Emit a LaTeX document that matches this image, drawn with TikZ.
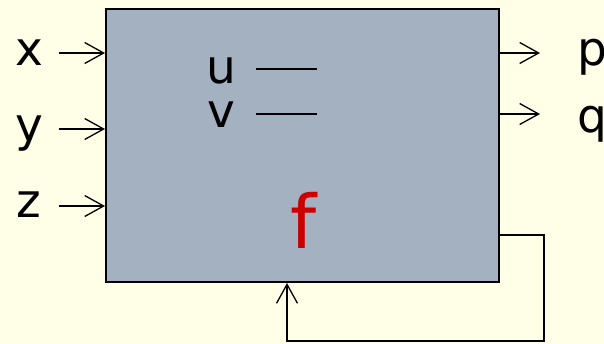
\documentclass[tikz,border=0pt]{standalone}
\usepackage{fontspec}
\setmainfont{DejaVu Sans}
\usetikzlibrary{arrows.meta}
\definecolor{fond}{HTML}{FFFFE8}
\definecolor{bloc}{HTML}{A3B1C0}
\definecolor{rouge}{HTML}{CC0000}
\newcommand{\grand}[0]{\fontsize{47}{47}\selectfont}
\newcommand{\entree}[2]{\coordinate (#1) at (59,#2);
	\draw[fl] (#1) -- (#1 -| bloc.west)}
\newcommand{\sortie}[2]{\coordinate (#1) at (540,#2);
	\draw[fl] (#1 -| bloc.east) -- (#1)}
\tikzset{fl/.style={line width=1.3pt,-{Straight Barb[length=19pt,width=21pt,line width=1.3pt]}},
	lettre/.style={inner sep=0pt,font=\grand}}

\begin{document}
\begin{tikzpicture}[x=1pt,y=-1pt]
	\fill[fond] (0,0) rectangle (604,343);
	\useasboundingbox (0,0) rectangle (604,343);
	\node[draw,line width=2pt,fill=bloc,anchor=north west,
		minimum width=393pt,minimum height=273pt,inner sep=0pt] (bloc) at (105,8) {};
	% entrees
	\node[lettre,anchor=base] (x) at (29,65) {x};
	\node[lettre,anchor=base] (y) at (29,141) {y};
	\node[lettre,anchor=base] (z) at (29,217) {z};
	\entree{xe}{53};
	\entree{ye}{129};
	\entree{ze}{206};
	% sorties
	\node[lettre,anchor=base west] (p) at (577,65) {p};
	\node[lettre,anchor=base west] (q) at (577,132) {q};
	\sortie{ps}{53};
	\sortie{qs}{114};
	% variables internes
	\node[lettre,anchor=base] (u) at (221,83) {u};
	\node[lettre,anchor=base] (v) at (221,127) {v};
	\coordinate (ua) at (256,69);
	\coordinate (va) at (256,114);
	\draw[line width=1.3pt] (ua) -- ++(61,0);
	\draw[line width=1.3pt] (va) -- ++(61,0);
	\node[inner sep=0pt,anchor=base,text=rouge,font=\fontsize{74}{74}\selectfont] (f) at (304,248) {f};
	% retour
	\coordinate (r1) at (544,235);
	\coordinate (r2) at (287,341);
	\draw[fl] (r1 -| bloc.east) -- (r1) |- (r2) -- (r2 |- bloc.south);
\end{tikzpicture}
\end{document}
